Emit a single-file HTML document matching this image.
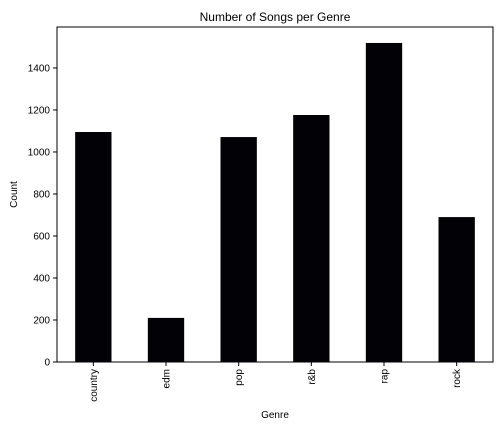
<!DOCTYPE html>
<html><head><meta charset="utf-8"><style>
body{margin:0;background:#fff;}
svg text{font-family:"Liberation Sans","DejaVu Sans",sans-serif;fill:#000;}
</style></head><body>
<svg id="chart" width="504" height="432">
<text x="275" y="21" font-size="12" text-anchor="middle">Number of Songs per Genre</text>
<g id="plot"></g>
<rect x="57" y="27" width="436" height="335" fill="none" stroke="#000" stroke-width="1"/>
<text x="275" y="418" font-size="10" text-anchor="middle">Genre</text>
<text transform="translate(17,194.5) rotate(-90)" font-size="10" text-anchor="middle">Count</text>
</svg>
<script>
const categories=["country","edm","pop","r&b","rap","rock"];
const counts=[1095,210,1071,1176,1519,690];
const yTicks=[0,200,400,600,800,1000,1200,1400];
const L=57,R=493,T=27,B=362,yMax=1595;
const ns="http://www.w3.org/2000/svg";
const g=document.getElementById('plot');
const step=(R-L)/categories.length, bw=step*0.5;
function xPos(i){return L+step*(i+0.5);}
function yPos(v){return B-(B-T)*v/yMax;}
function mk(t,a){const e=document.createElementNS(ns,t);for(const k in a)e.setAttribute(k,a[k]);g.appendChild(e);return e;}
counts.forEach((v,i)=>{
 const r=mk('rect',{x:xPos(i)-bw/2,y:yPos(v),width:bw,height:B-yPos(v),fill:'#020105'});
 
 
 const tk=mk('line',{x1:xPos(i),x2:xPos(i),y1:B,y2:B+4,stroke:'#000'});
 
 
 const t=mk('text',{transform:`translate(${xPos(i)+3.5},${B+7}) rotate(-90)`,'font-size':10,'text-anchor':'end'});
 t.textContent=categories[i];
 
 
});
yTicks.forEach(v=>{
 const y=yPos(v);
 const tk=mk('line',{x1:L-4,x2:L,y1:y,y2:y,stroke:'#000'});
 
 
 const t=mk('text',{x:L-7,y:y+3.5,'font-size':10,'text-anchor':'end'});
 t.textContent=v;
 
 
});
</script>
</body></html>
